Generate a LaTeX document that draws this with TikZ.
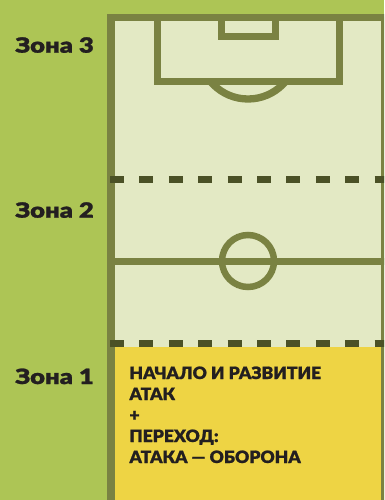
\documentclass[tikz,border=0pt]{standalone}
\usepackage{fontspec}
\newfontfamily\zfw{Lato Black}[FakeStretch=1.22, FakeBold=1.2]
\newfontfamily\zf{Lato Black}[FakeStretch=1.03, FakeBold=1]
\definecolor{bggreen}{HTML}{ADC555}
\definecolor{fieldc}{HTML}{E3E9C4}
\definecolor{linec}{HTML}{7A8242}
\definecolor{dashc}{HTML}{4B5126}
\definecolor{yelc}{HTML}{EED444}
\definecolor{txtc}{HTML}{231F20}
\tikzset{
  fline/.style={draw=linec, line width=7.5pt},
  dline/.style={draw=dashc, line width=7pt, dash pattern=on 14pt off 15.4pt},
  zonelab/.style={anchor=base east, inner sep=0pt, text=txtc, font=\zfw\fontsize{21}{21}\selectfont},
  boxtxt/.style={anchor=base west, inner sep=0pt, text=txtc, font=\zf\fontsize{17}{21}\selectfont}
}
\begin{document}
\begin{tikzpicture}[x=1pt,y=-1pt]
\useasboundingbox (0,0) rectangle (384,500);
\fill[bggreen] (0,0) rectangle (384,500);
\begin{scope}
\clip (0,0) rectangle (384,500);
\fill[fieldc] (111,17.5) rectangle (390,510);
\fill[yelc] (115,347) rectangle (381.25,510);
% penalty arc
\begin{scope}
\clip (150,82) rectangle (350,130);
\draw[fline, line width=7.3pt] (248,50) circle[radius=49pt];
\end{scope}
% outer border
\draw[fline] (111,520) -- (111,17.5) -- (385,17.5) -- (385,520);
% penalty box
\draw[fline, line width=7pt] (157,17.5) -- (157,82) -- (339,82) -- (339,17.5);
% goal box
\draw[fline, line width=7pt] (221,17.5) -- (221,37) -- (275,37) -- (275,17.5);
% halfway line and centre circle
\draw[fline, line width=7pt] (111,261) -- (385,261);
\draw[fline, line width=6.5pt] (248,261) circle[radius=26pt];
% zone separators
\draw[dline] (110,179) -- (390,179);
\draw[dline] (110,343.5) -- (390,343.5);
\end{scope}
% zone labels
\node[zonelab] (z3) at (94,52.7) {Зона 3};
\node[zonelab] (z2) at (94,217.7) {Зона 2};
\node[zonelab] (z1) at (94,384) {Зона 1};
% zone 1 text
\node[boxtxt] (l1) at (129.3,379) {НАЧАЛО И РАЗВИТИЕ};
\node[boxtxt] (l2) at (129.3,400) {АТАК};
\node[boxtxt] (l3) at (129.3,421) {+};
\node[boxtxt] (l4) at (129.3,442) {ПЕРЕХОД:};
\node[boxtxt] (l5) at (129.3,463) {АТАКА — ОБОРОНА};
\end{tikzpicture}
\end{document}
